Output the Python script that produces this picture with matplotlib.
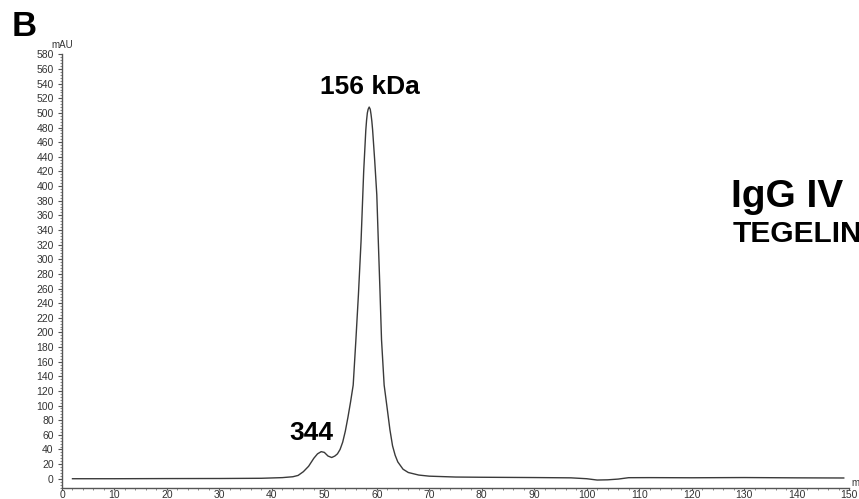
import numpy as np
import matplotlib.pyplot as plt
import matplotlib as mpl

mpl.rcParams['font.family'] = ['Liberation Sans', 'DejaVu Sans']

# elution volume / time (min) and absorbance (mAU)
t_min = [2, 10, 20, 30, 38, 42, 44, 45, 46, 47, 48, 48.7, 49.4, 50.0, 50.7,
         51.4, 52.0, 52.5, 53.0, 53.5, 54.0, 54.5, 55.0, 55.5, 56.0, 56.5,
         57.0, 57.5, 57.9, 58.05, 58.2, 58.35, 58.55, 58.75, 58.9, 59.05,
         59.2, 59.6, 60.0, 60.3, 60.6, 60.9, 61.4, 62.0, 62.5, 63.0, 63.5,
         64.0, 65.0, 66.0, 68.0, 70.0, 75, 80, 90, 97, 100, 102, 104, 106,
         108, 112, 120, 130, 140, 149]
mau = [0, 0, 0.2, 0.3, 0.6, 1.5, 2.7, 4.5, 9.6, 17, 28, 34, 37, 36, 31,
       29, 31, 34, 40, 50, 65, 84, 105, 128, 188, 252,
       325, 420, 476, 490, 500, 505, 508, 505, 498, 489,
       477, 435, 388, 322, 258, 190, 128, 95, 67, 45, 32,
       23, 13, 8.5, 5, 3.5, 2.3, 2, 1.6, 1.2, 0, -1.8, -1.5, -0.5,
       1.4, 1.5, 1.3, 1.6, 1.2, 1.0]

peak_labels = [(58.6, '156 kDa'), (49.4, '344')]

fig = plt.figure(figsize=(8.59, 4.99), dpi=100)
ax = fig.add_axes([62/859, 1 - 487.5/499, 787/859, 433.1/499])

ax.plot(t_min, mau, color='#3a3a3a', lw=1.0)

ax.set_xlim(0, 150)
ax.set_ylim(-12, 580)
ax.spines['top'].set_visible(False)
ax.spines['right'].set_visible(False)
for s in ('left', 'bottom'):
    ax.spines[s].set_color('#555555')
    ax.spines[s].set_linewidth(1.0)

ax.xaxis.set_major_locator(mpl.ticker.MultipleLocator(10))
ax.xaxis.set_minor_locator(mpl.ticker.MultipleLocator(2))
ax.yaxis.set_major_locator(mpl.ticker.FixedLocator(np.arange(0, 581, 20)))
ax.yaxis.set_minor_locator(mpl.ticker.MultipleLocator(4))
ax.tick_params(which='major', length=3, width=0.8, color='#555555',
               labelsize=7.5, labelcolor='#333333')
ax.tick_params(which='minor', length=1.5, width=0.6, color='#777777')
ax.tick_params(axis='x', which='major', length=1.5, pad=0, labelsize=7.5)
ax.tick_params(axis='y', pad=3)

ax.annotate('mAU', xy=(0, 580), xytext=(0, 3), textcoords='offset points',
            ha='center', va='bottom', fontsize=7, color='#333333')
ax.annotate('min', xy=(150, -12), xytext=(2, 0), textcoords='offset points',
            ha='left', va='bottom', fontsize=7, color='#333333',
            annotation_clip=False)

# peak annotations
ax.text(peak_labels[0][0], 536, peak_labels[0][1], ha='center',
        va='center', fontsize=19, fontweight='bold')
ax.text(peak_labels[1][0] - 1.8, 62, peak_labels[1][1], ha='center',
        va='center', fontsize=19, fontweight='bold')

fig.text(12/859, 1 - 26/499, 'B', fontsize=25, fontweight='bold',
         ha='left', va='center')
fig.text(731/859, 1 - 206.7/499, 'IgG IV', fontsize=28, fontweight='bold',
         ha='left', va='baseline')
fig.text(733/859, 1 - 241.7/499, 'TEGELIN', fontsize=21.5, fontweight='bold',
         ha='left', va='baseline')

fig.savefig('out.png', dpi=100)
